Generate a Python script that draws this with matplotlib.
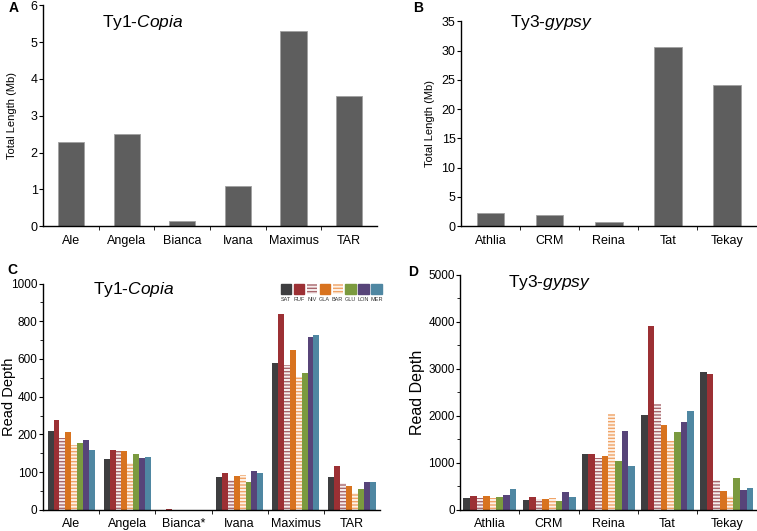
import numpy as np
import matplotlib
matplotlib.use('Agg')
from matplotlib import pyplot as plt
from matplotlib.patches import Rectangle

plt.rcParams['font.family'] = ['Liberation Sans', 'DejaVu Sans']
plt.rcParams['mathtext.fontset'] = 'custom'
plt.rcParams['mathtext.it'] = 'Liberation Sans:italic'
plt.rcParams['mathtext.rm'] = 'Liberation Sans'
plt.rcParams['hatch.linewidth'] = 1.0

# 数据
copia_families = ['Ale', 'Angela', 'Bianca', 'Ivana', 'Maximus', 'TAR']
copia_length = [2.3, 2.5, 0.13, 1.1, 5.3, 3.55]

gypsy_families = ['Athlia', 'CRM', 'Reina', 'Tat', 'Tekay']
gypsy_length = [2.2, 1.9, 0.7, 30.6, 24.1]

accessions = ['SAT', 'RUF', 'NIV', 'GLA', 'BAR', 'GLU', 'LON', 'MER']

copia_depth_labels = ['Ale', 'Angela', 'Bianca*', 'Ivana', 'Maximus', 'TAR']
copia_depth = {
    'SAT': [220, 135, 0, 87, 576, 88],
    'RUF': [278, 159, 3, 97, 838, 115],
    'NIV': [190, 155, 0, 78, 566, 72],
    'GLA': [210, 155, 0, 90, 646, 64],
    'BAR': [173, 125, 0, 92, 502, 45],
    'GLU': [178, 149, 0, 74, 524, 55],
    'LON': [184, 136, 0, 104, 716, 74],
    'MER': [158, 141, 0, 98, 728, 74],
}

gypsy_depth = {
    'SAT': [241, 213, 1191, 2021, 2936],
    'RUF': [298, 277, 1184, 3915, 2894],
    'NIV': [255, 227, 1099, 2241, 638],
    'GLA': [291, 234, 1149, 1801, 397],
    'BAR': [255, 248, 2035, 1461, 298],
    'GLU': [270, 177, 1035, 1652, 667],
    'LON': [319, 369, 1674, 1858, 426],
    'MER': [433, 262, 936, 2106, 468],
}

# C 图的纵轴刻度不是等距的
c_ticks = [0, 100, 200, 400, 600, 800, 1000]

# 每个样本的颜色和条纹
styles = {
    'SAT': dict(color='#3e3e40'),
    'RUF': dict(color='#9c3034'),
    'NIV': dict(facecolor='#f6eeee', edgecolor='#a8666c', hatch='-----', linewidth=0),
    'GLA': dict(color='#d8731f'),
    'BAR': dict(facecolor='#fdf2e8', edgecolor='#f0a468', hatch='-----', linewidth=0),
    'GLU': dict(color='#7b9a3f'),
    'LON': dict(color='#574479'),
    'MER': dict(color='#4f87a2'),
}


def c_forward(v):
    return np.interp(v, c_ticks, np.arange(len(c_ticks)))


def c_inverse(p):
    return np.interp(p, np.arange(len(c_ticks)), c_ticks)


def style_axis(ax, n, ysize=9):
    ax.spines['top'].set_visible(False)
    ax.spines['right'].set_visible(False)
    ax.spines['left'].set_linewidth(1.0)
    ax.spines['bottom'].set_linewidth(1.0)
    ax.set_xlim(-0.5, n - 0.5)
    ax.set_xticks(np.arange(n - 1) + 0.5, minor=True)
    ax.tick_params(axis='x', which='major', length=0, labelsize=9, pad=6)
    ax.tick_params(axis='x', which='minor', length=3, direction='out')
    ax.tick_params(axis='y', which='both', direction='out', labelsize=ysize, pad=1)
    ax.tick_params(axis='y', which='major', length=3)
    ax.tick_params(axis='y', which='minor', length=2)


def title(ax, s, x, y):
    ax.text(x, y, s, transform=ax.transAxes, fontsize=12.5, ha='left', va='center')


fig = plt.figure(figsize=(7.57, 5.31), dpi=100)

# A
axA = fig.add_axes([0.057, 0.574, 0.441, 0.416])
x = np.arange(len(copia_families))
axA.bar(x, copia_length, width=0.47, color='#5e5e5e', edgecolor='#a0a0a0', linewidth=0.6)
style_axis(axA, len(copia_families))
axA.set_xticks(x, copia_families)
axA.set_ylim(0, 6)
axA.set_yticks(range(0, 7))
axA.set_ylabel('Total Length (Mb)', fontsize=8)
axA.yaxis.set_label_coords(-0.078, 0.5)
title(axA, 'Ty1-$\\it{Copia}$', 0.177, 0.92)

# B
axB = fig.add_axes([0.609, 0.574, 0.39, 0.386])
x = np.arange(len(gypsy_families))
axB.bar(x, gypsy_length, width=0.47, color='#5e5e5e', edgecolor='#a0a0a0', linewidth=0.6)
style_axis(axB, len(gypsy_families))
axB.set_xticks(x, gypsy_families)
axB.set_ylim(0, 35)
axB.set_yticks(range(0, 36, 5))
axB.set_ylabel('Total Length (Mb)', fontsize=8)
axB.yaxis.set_label_coords(-0.088, 0.5)
title(axB, 'Ty3-$\\it{gypsy}$', 0.166, 0.995)

# C
axC = fig.add_axes([0.057, 0.04, 0.445, 0.426])
axC.set_yscale('function', functions=(c_forward, c_inverse))
n = len(copia_depth_labels)
bw = 0.105
for i, acc in enumerate(accessions):
    axC.bar(np.arange(n) + (i - 3.5) * bw, copia_depth[acc], width=bw, **styles[acc])
style_axis(axC, n, ysize=8.5)
axC.set_xticks(np.arange(n), copia_depth_labels)
axC.set_ylim(0, 1000)
axC.set_yticks(c_ticks, [str(t) for t in c_ticks])
axC.set_yticks([50, 150, 300, 500, 700, 900], minor=True)
# 纵轴标题贴着左边缘放
fig.text(2 / 757, 0.04 + 0.426 / 2, 'Read Depth', fontsize=10.5, rotation=90,
         ha='left', va='center')
title(axC, 'Ty1-$\\it{Copia}$', 0.148, 0.973)

# C 的图例: 色块在上, 文字在下
for i, acc in enumerate(accessions):
    x0 = 0.705 + i * 0.0385
    axC.add_patch(Rectangle((x0, 0.955), 0.03, 0.045, transform=axC.transAxes,
                            clip_on=False, **styles[acc]))
    axC.text(x0 + 0.015, 0.93, acc, transform=axC.transAxes, fontsize=4,
             ha='center', va='center', color='#333333')

# D
axD = fig.add_axes([0.608, 0.04, 0.391, 0.443])
n = len(gypsy_families)
bw = 0.112
for i, acc in enumerate(accessions):
    axD.bar(np.arange(n) + (i - 3.5) * bw, gypsy_depth[acc], width=bw, **styles[acc])
style_axis(axD, n, ysize=8.5)
axD.set_xticks(np.arange(n), gypsy_families)
axD.set_ylim(0, 5000)
axD.set_yticks(range(0, 5001, 1000))
axD.set_yticks(range(500, 5000, 1000), minor=True)
axD.set_ylabel('Read Depth', fontsize=11.5)
axD.yaxis.set_label_coords(-0.118, 0.5)
title(axD, 'Ty3-$\\it{gypsy}$', 0.162, 0.966)

# 子图编号
for lab, (px, py) in zip('ABCD', [(14, 8), (418, 8), (12, 270), (413, 272)]):
    fig.text(px / 757, 1 - py / 531, lab, fontsize=10, fontweight='bold', ha='center', va='center')

fig.savefig('out.png', dpi=100)
